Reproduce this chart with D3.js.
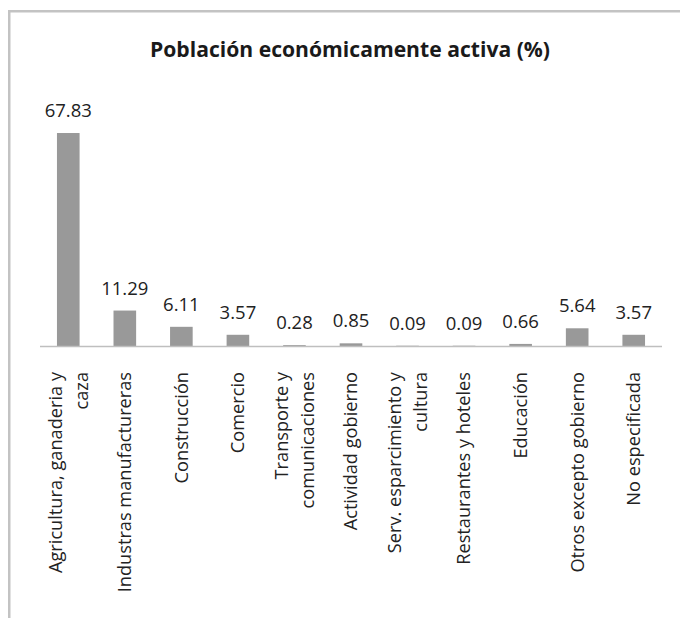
<!DOCTYPE html>
<html><head><meta charset="utf-8">
<script src="https://cdn.jsdelivr.net/npm/d3@7"></script>
<style>
html,body{margin:0;padding:0;background:#fff;}
svg{display:block;}
</style>
</head><body>
<script>
const title = "Población económicamente activa (%)";
const categories = [
  "Agricultura, ganaderia y\ncaza",
  "Industras manufactureras",
  "Construcción",
  "Comercio",
  "Transporte y\ncomunicaciones",
  "Actividad gobierno",
  "Serv. esparcimiento y\ncultura",
  "Restaurantes y hoteles",
  "Educación",
  "Otros excepto gobierno",
  "No especificada"
];
const values = [67.83, 11.29, 6.11, 3.57, 0.28, 0.85, 0.09, 0.09, 0.66, 5.64, 3.57];
const valueLabels = ["67.83","11.29","6.11","3.57","0.28","0.85","0.09","0.09","0.66","5.64","3.57"];

const W = 680, H = 618;
const FONT = "'Open Sans', sans-serif";
const svg = d3.select("body").append("svg").attr("width", W).attr("height", H);

// chart frame
svg.append("rect").attr("x", 9.25).attr("y", 11.25).attr("width", W + 20).attr("height", H + 20)
  .attr("fill", "none").attr("stroke", "#c3c3c3").attr("stroke-width", 2.5);

svg.append("text").attr("x", 350).attr("y", 57).attr("text-anchor", "middle")
  .attr("font-family", FONT).attr("font-weight", "bold").attr("font-size", 21)
  .attr("fill", "#1a1a1a").attr("textLength", 400).attr("lengthAdjust", "spacingAndGlyphs")
  .text(title);

const x = d3.scaleBand().domain(categories).range([40, 662]).paddingInner(0.6).paddingOuter(0.3);
const y = d3.scaleLinear().domain([0, 70]).range([346, 346 - 3.14 * 70]);

svg.append("g").selectAll("rect").data(values).join("rect")
  .attr("x", (d, i) => x(categories[i]))
  .attr("width", x.bandwidth())
  .attr("y", d => y(d))
  .attr("height", d => y(0) - y(d))
  .attr("fill", "#999999");

svg.append("g").selectAll("text").data(values).join("text")
  .attr("x", (d, i) => x(categories[i]) + x.bandwidth() / 2)
  .attr("y", d => y(d) - 16)
  .attr("text-anchor", "middle")
  .attr("font-family", FONT).attr("font-size", 18.5).attr("fill", "#222")
  .text((d, i) => valueLabels[i]);

// axis
const xAxis = d3.axisBottom(x).tickSize(0).tickPadding(0).tickFormat(() => "");
const ax = svg.append("g").attr("transform", `translate(0,${y(0)})`).call(xAxis);
ax.select(".domain").attr("stroke", "#bfbfbf").attr("stroke-width", 1.5)
  .attr("d", "M40,0.5H662");

const lh = 26;
ax.selectAll(".tick").each(function(d) {
  const g = d3.select(this);
  g.select("text").remove();
  const lines = d.split("\n");
  const t = g.append("text")
    .attr("transform", "translate(0,26) rotate(-90)")
    .attr("text-anchor", "end")
    .attr("font-family", FONT).attr("font-size", 18.2).attr("fill", "#222");
  lines.forEach((ln, i) => {
    t.append("tspan").attr("x", 0)
      .attr("y", (i - (lines.length - 1) / 2) * lh)
      .attr("dy", "0.35em").text(ln);
  });
});
</script>
</body></html>
